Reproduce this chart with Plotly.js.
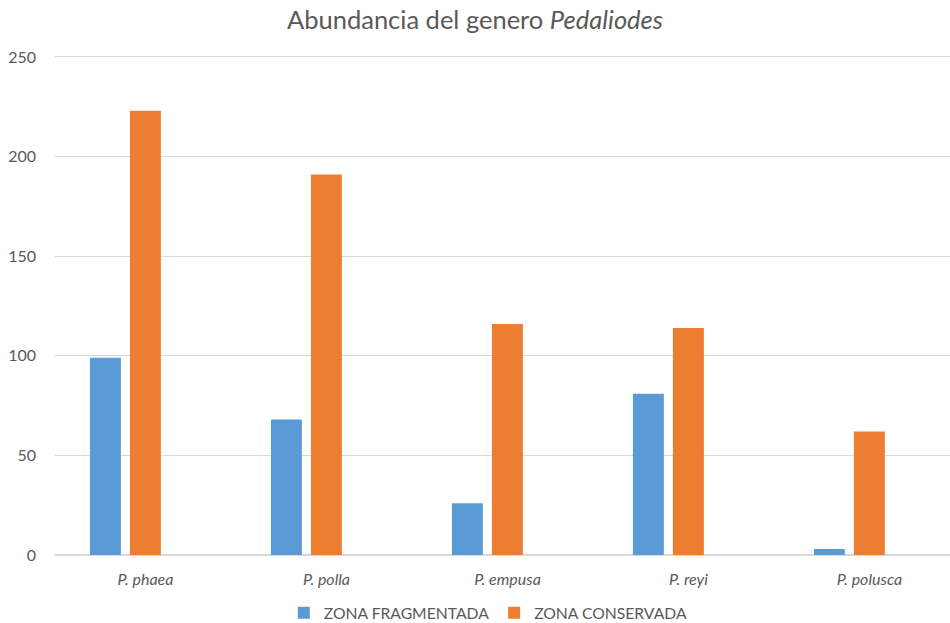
<!DOCTYPE html>
<html>
<head>
<meta charset="utf-8">
<script src="https://cdn.plot.ly/plotly-3.0.1.min.js"></script>
<style>
  html, body { margin: 0; padding: 0; background: #fff; }
  #chart { width: 950px; height: 623px; }
</style>
</head>
<body>
<div id="chart"></div>
<script>
// Species of the genus Pedaliodes
const species = ['P. phaea', 'P. polla', 'P. empusa', 'P. reyi', 'P. polusca'];

// Individuals counted in each zone
const fragmentada = [99, 68, 26, 81, 3];
const conservada = [223, 191, 116, 114, 62];

const seriesNames = ['ZONA FRAGMENTADA', 'ZONA CONSERVADA'];
const yTicks = [0, 50, 100, 150, 200, 250];

const FONT = 'Lato, "Open Sans", sans-serif';
const TEXT = '#595959';

const traces = [
  {
    type: 'bar',
    name: seriesNames[0],
    x: species,
    y: fragmentada,
    width: 0.171,
    offset: -0.307,
    marker: { color: '#5B9BD5' },
    hoverinfo: 'x+y+name'
  },
  {
    type: 'bar',
    name: seriesNames[1],
    x: species,
    y: conservada,
    width: 0.171,
    offset: -0.086,
    marker: { color: '#ED7D31' },
    hoverinfo: 'x+y+name'
  }
];

const layout = {
  width: 950,
  height: 623,
  paper_bgcolor: '#ffffff',
  plot_bgcolor: '#ffffff',
  margin: { l: 55, r: 0, t: 55, b: 68, autoexpand: false },
  barmode: 'overlay',
  font: { family: FONT, color: TEXT, size: 16 },
  title: {
    text: 'Abundancia del genero <i>Pedaliodes</i>',
    font: { family: FONT, size: 25.5, color: TEXT },
    x: 0.5,
    xanchor: 'center',
    y: 0.967,
    yanchor: 'middle'
  },
  xaxis: {
    type: 'category',
    range: [-0.5, 4.445],
    showgrid: false,
    showline: false,
    zeroline: false,
    ticks: '',
    tickfont: { family: FONT, size: 16, color: TEXT, style: 'italic' },
    ticklabelstandoff: 13,
    fixedrange: true
  },
  yaxis: {
    range: [0, 251],
    tickvals: yTicks,
    ticktext: yTicks.map(String),
    showgrid: true,
    gridcolor: '#d9d9d9',
    gridwidth: 1,
    zeroline: true,
    zerolinecolor: '#d9d9d9',
    zerolinewidth: 2,
    showline: false,
    ticks: '',
    tickfont: { family: FONT, size: 16, color: TEXT },
    ticklabelstandoff: 18,
    fixedrange: true
  },
  showlegend: true,
  legend: {
    orientation: 'h',
    xref: 'container',
    yref: 'container',
    x: 0.514,
    xanchor: 'center',
    y: 0.016,
    yanchor: 'middle',
    font: { family: FONT, size: 15.7, color: TEXT },
    itemwidth: 30,
    tracegroupgap: 0,
    bgcolor: 'rgba(0,0,0,0)'
  }
};

Plotly.newPlot('chart', traces, layout, { displayModeBar: false, staticPlot: true });
</script>
</body>
</html>
